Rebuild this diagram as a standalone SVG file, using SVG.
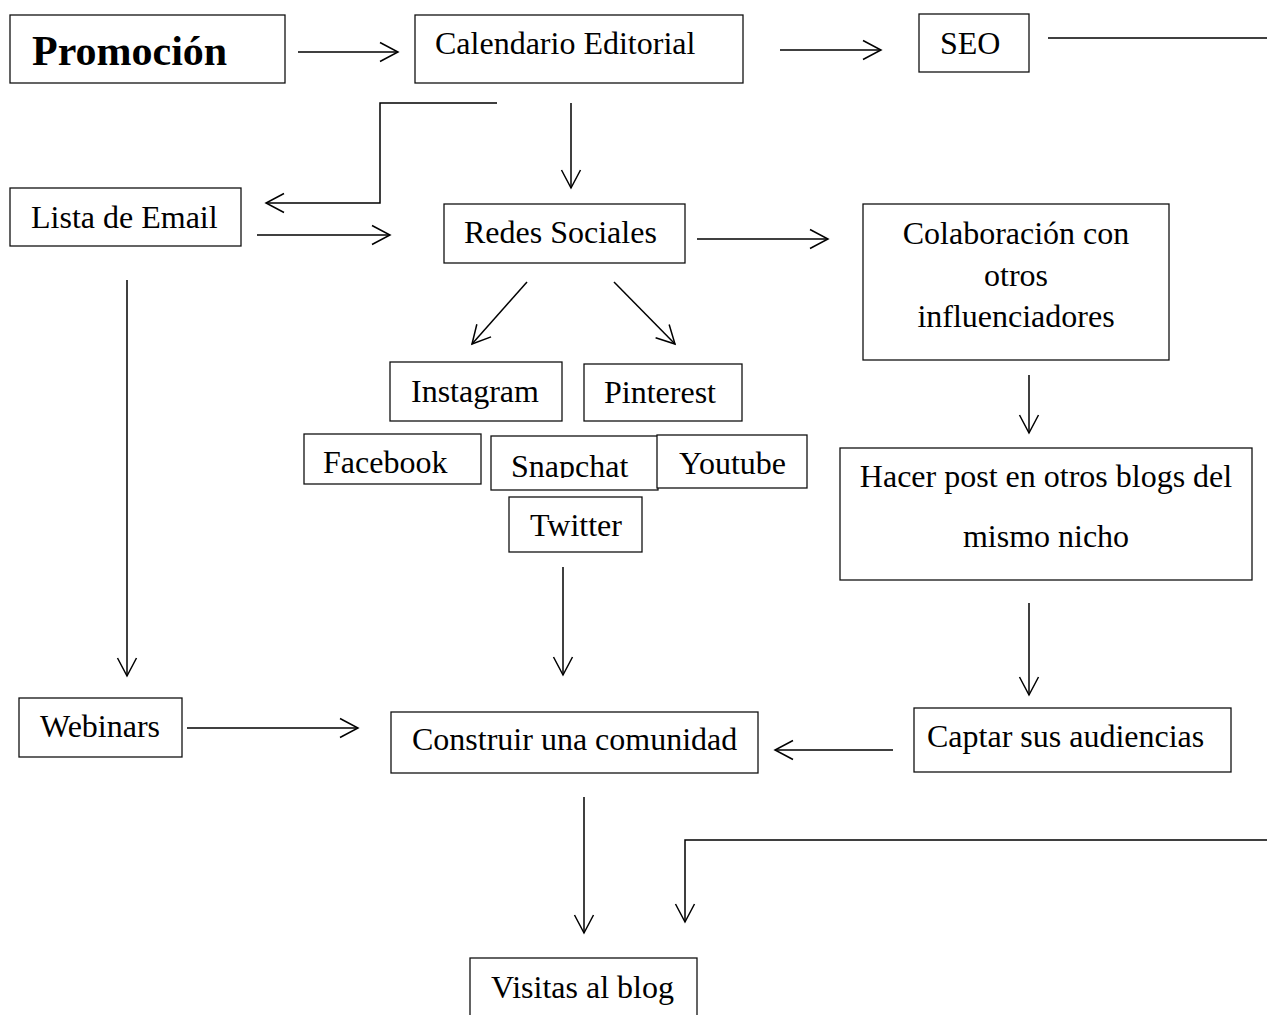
<svg xmlns="http://www.w3.org/2000/svg" width="1267" height="1015" viewBox="0 0 1267 1015">
  <style>
    .box { fill: #fff; stroke: #111; stroke-width: 1.3; }
    .lbl { font-family: "Liberation Serif", "Times New Roman", serif; font-size: 32px; fill: #000; }
    .title { font-family: "Liberation Serif", "Times New Roman", serif; font-size: 42px; font-weight: bold; fill: #000; }
    .wire { fill: none; stroke: #000; stroke-width: 1.5; }
  </style>
  <defs>
    <marker id="chev" markerUnits="userSpaceOnUse" markerWidth="24" markerHeight="24" viewBox="-20 -12 24 24" refX="0" refY="0" orient="auto">
      <path d="M -18 -9.5 L 0 0 L -18 9.5" fill="none" stroke="#000" stroke-width="1.5"/>
    </marker>
    <clipPath id="snapClip">
      <rect x="491" y="436" width="167" height="42"/>
    </clipPath>
  </defs>
  <rect width="1267" height="1015" fill="#fff"/>

  <g id="connectors">
    <line class="wire" x1="298" y1="52" x2="398" y2="52" marker-end="url(#chev)"/>
    <line class="wire" x1="780" y1="50" x2="881" y2="50" marker-end="url(#chev)"/>
    <line class="wire" x1="1048" y1="38" x2="1267" y2="38"/>
    <polyline class="wire" points="497,103 380,103 380,203 266,203" marker-end="url(#chev)"/>
    <line class="wire" x1="571" y1="103" x2="571" y2="188" marker-end="url(#chev)"/>
    <line class="wire" x1="257" y1="235" x2="390" y2="235" marker-end="url(#chev)"/>
    <line class="wire" x1="697" y1="239" x2="828" y2="239" marker-end="url(#chev)"/>
    <line class="wire" x1="527" y1="282" x2="472" y2="344" marker-end="url(#chev)"/>
    <line class="wire" x1="614" y1="282" x2="675" y2="344" marker-end="url(#chev)"/>
    <line class="wire" x1="1029" y1="375" x2="1029" y2="433" marker-end="url(#chev)"/>
    <line class="wire" x1="127" y1="280" x2="127" y2="676" marker-end="url(#chev)"/>
    <line class="wire" x1="563" y1="567" x2="563" y2="675" marker-end="url(#chev)"/>
    <line class="wire" x1="1029" y1="603" x2="1029" y2="695" marker-end="url(#chev)"/>
    <line class="wire" x1="187" y1="728" x2="358" y2="728" marker-end="url(#chev)"/>
    <line class="wire" x1="893" y1="750" x2="775" y2="750" marker-end="url(#chev)"/>
    <line class="wire" x1="584" y1="797" x2="584" y2="933" marker-end="url(#chev)"/>
    <polyline class="wire" points="1267,840 685,840 685,922" marker-end="url(#chev)"/>
  </g>

  <g id="promocion">
    <rect class="box" x="10" y="15" width="275" height="68"/>
    <text class="title" x="32" y="65">Promoción</text>
  </g>
  <g id="calendario">
    <rect class="box" x="415" y="15" width="328" height="68"/>
    <text class="lbl" x="435" y="54">Calendario Editorial</text>
  </g>
  <g id="seo">
    <rect class="box" x="919" y="14" width="110" height="58"/>
    <text class="lbl" x="940" y="54">SEO</text>
  </g>
  <g id="email">
    <rect class="box" x="10" y="188" width="231" height="58"/>
    <text class="lbl" x="31" y="228">Lista de Email</text>
  </g>
  <g id="redes">
    <rect class="box" x="444" y="204" width="241" height="59"/>
    <text class="lbl" x="464" y="243">Redes Sociales</text>
  </g>
  <g id="colaboracion">
    <rect class="box" x="863" y="204" width="306" height="156"/>
    <text class="lbl" x="1016" y="244" text-anchor="middle">Colaboración con</text>
    <text class="lbl" x="1016" y="286" text-anchor="middle">otros</text>
    <text class="lbl" x="1016" y="327" text-anchor="middle">influenciadores</text>
  </g>
  <g id="instagram">
    <rect class="box" x="390" y="362" width="172" height="59"/>
    <text class="lbl" x="411" y="402">Instagram</text>
  </g>
  <g id="pinterest">
    <rect class="box" x="584" y="364" width="158" height="57"/>
    <text class="lbl" x="604" y="403">Pinterest</text>
  </g>
  <g id="facebook">
    <rect class="box" x="304" y="434" width="177" height="50"/>
    <text class="lbl" x="323" y="473">Facebook</text>
  </g>
  <g id="snapchat">
    <rect class="box" x="491" y="436" width="167" height="54"/>
    <text class="lbl" x="511" y="477" clip-path="url(#snapClip)">Snapchat</text>
  </g>
  <g id="youtube">
    <rect class="box" x="657" y="435" width="150" height="53"/>
    <text class="lbl" x="679" y="474">Youtube</text>
  </g>
  <g id="twitter">
    <rect class="box" x="509" y="497" width="133" height="55"/>
    <text class="lbl" x="530" y="536">Twitter</text>
  </g>
  <g id="hacer-post">
    <rect class="box" x="840" y="448" width="412" height="132"/>
    <text class="lbl" x="1046" y="487" text-anchor="middle">Hacer post en otros blogs del</text>
    <text class="lbl" x="1046" y="547" text-anchor="middle">mismo nicho</text>
  </g>
  <g id="webinars">
    <rect class="box" x="19" y="698" width="163" height="59"/>
    <text class="lbl" x="40" y="737">Webinars</text>
  </g>
  <g id="construir">
    <rect class="box" x="391" y="712" width="367" height="61"/>
    <text class="lbl" x="412" y="750">Construir una comunidad</text>
  </g>
  <g id="captar">
    <rect class="box" x="914" y="708" width="317" height="64"/>
    <text class="lbl" x="927" y="747">Captar sus audiencias</text>
  </g>
  <g id="visitas">
    <rect class="box" x="470" y="958" width="227" height="70"/>
    <text class="lbl" x="491" y="998">Visitas al blog</text>
  </g>
</svg>
